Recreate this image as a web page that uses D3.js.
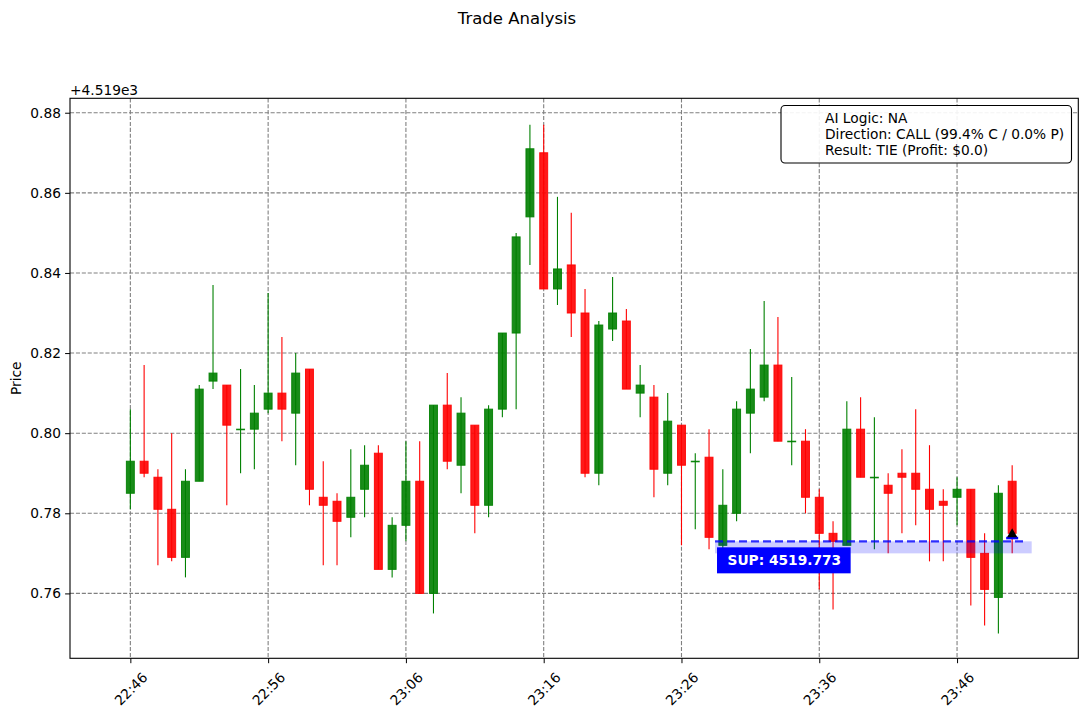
<!DOCTYPE html>
<html>
<head>
<meta charset="utf-8">
<script src="https://cdn.jsdelivr.net/npm/d3@7"></script>
<style>
    body { margin: 0; background: #fff; }
    svg { display: block; font-family: "DejaVu Sans", sans-serif; }
</style>
</head>
<body>
<script>
//candle times (one per minute)
var times = ["22:46","22:47","22:48","22:49","22:50","22:51","22:52","22:53","22:54","22:55",
    "22:56","22:57","22:58","22:59","23:00","23:01","23:02","23:03","23:04","23:05",
    "23:06","23:07","23:08","23:09","23:10","23:11","23:12","23:13","23:14","23:15",
    "23:16","23:17","23:18","23:19","23:20","23:21","23:22","23:23","23:24","23:25",
    "23:26","23:27","23:28","23:29","23:30","23:31","23:32","23:33","23:34","23:35",
    "23:36","23:37","23:38","23:39","23:40","23:41","23:42","23:43","23:44","23:45",
    "23:46","23:47","23:48","23:49","23:50"];

//OHLC prices
var opens = [4519.785,4519.793,4519.789,4519.781,4519.769,4519.788,4519.813,4519.812,4519.801,4519.801,
    4519.806,4519.810,4519.805,4519.816,4519.784,4519.783,4519.779,4519.786,4519.795,4519.766,
    4519.777,4519.788,4519.760,4519.807,4519.792,4519.802,4519.782,4519.806,4519.825,4519.854,
    4519.870,4519.836,4519.842,4519.830,4519.790,4519.826,4519.828,4519.810,4519.809,4519.790,
    4519.802,4519.793,4519.794,4519.772,4519.780,4519.805,4519.809,4519.817,4519.798,4519.798,
    4519.784,4519.775,4519.772,4519.801,4519.789,4519.787,4519.790,4519.790,4519.786,4519.783,
    4519.784,4519.786,4519.770,4519.759,4519.788];
var highs = [4519.806,4519.817,4519.791,4519.800,4519.791,4519.812,4519.837,4519.812,4519.816,4519.812,
    4519.835,4519.824,4519.820,4519.816,4519.793,4519.785,4519.796,4519.797,4519.797,4519.779,
    4519.798,4519.798,4519.807,4519.815,4519.809,4519.802,4519.807,4519.825,4519.850,4519.877,
    4519.877,4519.859,4519.855,4519.836,4519.828,4519.839,4519.831,4519.817,4519.812,4519.810,
    4519.802,4519.795,4519.801,4519.791,4519.808,4519.821,4519.833,4519.829,4519.814,4519.801,
    4519.786,4519.778,4519.808,4519.809,4519.804,4519.790,4519.796,4519.806,4519.797,4519.786,
    4519.789,4519.786,4519.775,4519.787,4519.792];
var lows = [4519.781,4519.789,4519.767,4519.768,4519.764,4519.788,4519.811,4519.782,4519.790,4519.791,
    4519.805,4519.798,4519.792,4519.782,4519.767,4519.767,4519.774,4519.779,4519.766,4519.764,
    4519.773,4519.760,4519.755,4519.791,4519.785,4519.775,4519.779,4519.804,4519.806,4519.842,
    4519.836,4519.832,4519.824,4519.789,4519.787,4519.823,4519.811,4519.804,4519.784,4519.787,
    4519.772,4519.776,4519.771,4519.771,4519.778,4519.795,4519.808,4519.798,4519.792,4519.780,
    4519.761,4519.756,4519.772,4519.789,4519.771,4519.770,4519.775,4519.777,4519.768,4519.768,
    4519.777,4519.757,4519.752,4519.750,4519.770];
var closes = [4519.793,4519.790,4519.781,4519.769,4519.788,4519.811,4519.815,4519.802,4519.801,4519.805,
    4519.810,4519.806,4519.815,4519.786,4519.782,4519.778,4519.784,4519.792,4519.766,4519.777,
    4519.788,4519.760,4519.807,4519.793,4519.805,4519.782,4519.806,4519.825,4519.849,4519.871,
    4519.836,4519.841,4519.830,4519.790,4519.827,4519.830,4519.811,4519.812,4519.791,4519.803,
    4519.792,4519.793,4519.774,4519.782,4519.806,4519.811,4519.817,4519.798,4519.798,4519.784,
    4519.775,4519.773,4519.801,4519.789,4519.789,4519.785,4519.789,4519.786,4519.781,4519.782,
    4519.786,4519.769,4519.761,4519.785,4519.775];

//axis ticks
var xTickLabels = ["22:46","22:56","23:06","23:16","23:26","23:36","23:46"];
var yTickValues = [4519.76,4519.78,4519.80,4519.82,4519.84,4519.86,4519.88];
var yOffset = 4519;
var yOffsetLabel = "+4.519e3";

//support zone
var supportLevel = 4519.773;
var supportZoneLow = 4519.770;
var supportStart = "23:28:26";
var supportLineEnd = "23:50:51";
var supportZoneEnd = "23:51:25";
var supportLabel = "SUP: 4519.773";

//legend texts
var legendLines = ["AI Logic: NA", "Direction: CALL (99.4% C / 0.0% P)", "Result: TIE (Profit: $0.0)"];
var chartTitle = "Trade Analysis";

(function(){

    var width = 1088,
        height = 716,
        margin = {top: 98.3, right: 9.7, bottom: 57.7, left: 70},
        innerWidth = width - margin.left - margin.right,
        innerHeight = height - margin.top - margin.bottom;

    var parseHM = d3.timeParse("%H:%M"),
        parseHMS = d3.timeParse("%H:%M:%S");
    var minute = 60000;

    var candles = times.map(function(t, i){
        return {t: parseHM(t), o: opens[i], h: highs[i], l: lows[i], c: closes[i]};
    });

    var svg = d3.select("body")
        .append("svg")
        .attr("width", width)
        .attr("height", height);

    //title
    svg.append("text")
        .attr("x", 517)
        .attr("y", 24)
        .attr("text-anchor", "middle")
        .style("font-size", "16.5px")
        .text(chartTitle);

    var g = svg.append("g")
        .attr("transform", "translate(" + margin.left + "," + margin.top + ")");

    //scales
    var t0 = candles[0].t, t1 = candles[candles.length - 1].t;
    var xScale = d3.scaleTime()
        .domain([new Date(+t0 - 4.38 * minute), new Date(+t1 + 4.8 * minute)])
        .range([0, innerWidth]);

    var yScale = d3.scaleLinear()
        .domain([4519.7438, 4519.8836])
        .range([innerHeight, 0]);

    var xTickDates = xTickLabels.map(function(s){ return parseHM(s); });

    //grid lines
    g.selectAll(".ygrid")
        .data(yTickValues)
        .enter()
        .append("line")
        .attr("x1", 0).attr("x2", innerWidth)
        .attr("y1", function(d){ return yScale(d); })
        .attr("y2", function(d){ return yScale(d); })
        .attr("stroke", "#808080")
        .attr("stroke-width", 1.1)
        .attr("stroke-dasharray", "4.1,1.8");

    g.selectAll(".xgrid")
        .data(xTickDates)
        .enter()
        .append("line")
        .attr("y1", 0).attr("y2", innerHeight)
        .attr("x1", function(d){ return xScale(d); })
        .attr("x2", function(d){ return xScale(d); })
        .attr("stroke", "#808080")
        .attr("stroke-width", 1.1)
        .attr("stroke-dasharray", "4.1,1.8");

    function candleColor(d){
        return d.c >= d.o ? "green" : "red";
    }

    //wicks
    g.selectAll(".wick")
        .data(candles)
        .enter()
        .append("line")
        .attr("x1", function(d){ return xScale(d.t); })
        .attr("x2", function(d){ return xScale(d.t); })
        .attr("y1", function(d){ return yScale(d.h); })
        .attr("y2", function(d){ return yScale(d.l); })
        .attr("stroke", candleColor)
        .attr("stroke-width", 1.1);

    //bodies
    var bodyWidth = xScale(new Date(+t0 + 0.576 * minute)) - xScale(t0);
    g.selectAll(".body")
        .data(candles)
        .enter()
        .append("rect")
        .attr("x", function(d){ return xScale(d.t) - bodyWidth / 2; })
        .attr("width", bodyWidth)
        .attr("y", function(d){ return yScale(Math.max(d.o, d.c)); })
        .attr("height", function(d){ return Math.max(Math.abs(yScale(d.o) - yScale(d.c)), 0.6); })
        .attr("fill", candleColor)
        .attr("fill-opacity", 0.9)
        .attr("stroke", candleColor)
        .attr("stroke-opacity", 0.9)
        .attr("stroke-width", 1);

    //support zone and line
    var sx0 = xScale(parseHMS(supportStart));
    g.append("rect")
        .attr("x", sx0)
        .attr("width", xScale(parseHMS(supportZoneEnd)) - sx0)
        .attr("y", yScale(supportLevel))
        .attr("height", yScale(supportZoneLow) - yScale(supportLevel))
        .attr("fill", "blue")
        .attr("fill-opacity", 0.2);

    g.append("line")
        .attr("x1", sx0)
        .attr("x2", xScale(parseHMS(supportLineEnd)))
        .attr("y1", yScale(supportLevel))
        .attr("y2", yScale(supportLevel))
        .attr("stroke", "blue")
        .attr("stroke-width", 2.2)
        .attr("stroke-dasharray", "8,4")
        .attr("stroke-opacity", 0.8);

    //support label
    var labelG = g.append("g");
    var labelBox = labelG.append("rect").attr("fill", "blue");
    var labelText = labelG.append("text")
        .attr("x", sx0 + 12.5)
        .attr("y", yScale(supportLevel) + 19)
        .attr("dominant-baseline", "central")
        .attr("fill", "white")
        .style("font-weight", "bold")
        .style("font-size", "13.75px")
        .text(supportLabel);
    var labelW = labelText.node().getComputedTextLength();
    labelBox.attr("x", sx0 + 2)
        .attr("y", yScale(supportLevel) + 6)
        .attr("width", labelW + 20)
        .attr("height", 26);

    //entry marker at last close
    var last = candles[candles.length - 1];
    var mx = xScale(last.t), my = yScale(last.c) + 1;
    g.append("rect")
        .attr("x", mx - 6)
        .attr("y", my + 2.5)
        .attr("width", 12)
        .attr("height", 2.5)
        .attr("fill", "blue");
    g.append("path")
        .attr("d", d3.symbol().type(d3.symbolTriangle).size(46))
        .attr("transform", "translate(" + mx + "," + my + ")")
        .attr("fill", "black");

    //axes
    var yAxis = d3.axisLeft(yScale)
        .tickValues(yTickValues)
        .tickSize(4.9)
        .tickPadding(4.2)
        .tickFormat(function(d){ return (d - yOffset).toFixed(2); });

    var yAxisG = g.append("g").call(yAxis);
    yAxisG.select(".domain").remove();
    yAxisG.selectAll("text")
        .attr("fill", "black")
        .style("font-size", "13.75px")
        .style("font-family", "DejaVu Sans");

    var xAxis = d3.axisBottom(xScale)
        .tickValues(xTickDates)
        .tickSize(4.9)
        .tickFormat(d3.timeFormat("%H:%M"));

    var xAxisG = g.append("g")
        .attr("transform", "translate(0," + innerHeight + ")")
        .call(xAxis);
    xAxisG.select(".domain").remove();
    xAxisG.selectAll("text")
        .attr("y", null)
        .attr("dy", null)
        .attr("fill", "black")
        .attr("text-anchor", "middle")
        .attr("dominant-baseline", "central")
        .attr("transform", "translate(0,30.5) rotate(-45)")
        .style("font-size", "13.75px")
        .style("font-family", "DejaVu Sans");

    //axes frame
    g.append("rect")
        .attr("width", innerWidth)
        .attr("height", innerHeight)
        .attr("fill", "none")
        .attr("stroke", "black")
        .attr("stroke-width", 1.1);

    //offset text and y label
    g.append("text")
        .attr("x", 0)
        .attr("y", -3.5)
        .style("font-size", "13.75px")
        .text(yOffsetLabel);

    svg.append("text")
        .attr("transform", "translate(21," + (margin.top + innerHeight / 2) + ") rotate(-90)")
        .attr("text-anchor", "middle")
        .style("font-size", "13.75px")
        .text("Price");

    //legend
    var legend = svg.append("g");
    legend.append("rect")
        .attr("x", 781)
        .attr("y", 105.5)
        .attr("width", 290.5)
        .attr("height", 57.5)
        .attr("rx", 4)
        .attr("fill", "white")
        .attr("fill-opacity", 0.9)
        .attr("stroke", "black")
        .attr("stroke-width", 1.1);

    legend.selectAll(".legendText")
        .data(legendLines)
        .enter()
        .append("text")
        .attr("x", 825)
        .attr("y", function(d, i){ return 123.3 + i * 15.6; })
        .style("font-size", "13.75px")
        .text(function(d){ return d; });

})();
</script>
</body>
</html>
